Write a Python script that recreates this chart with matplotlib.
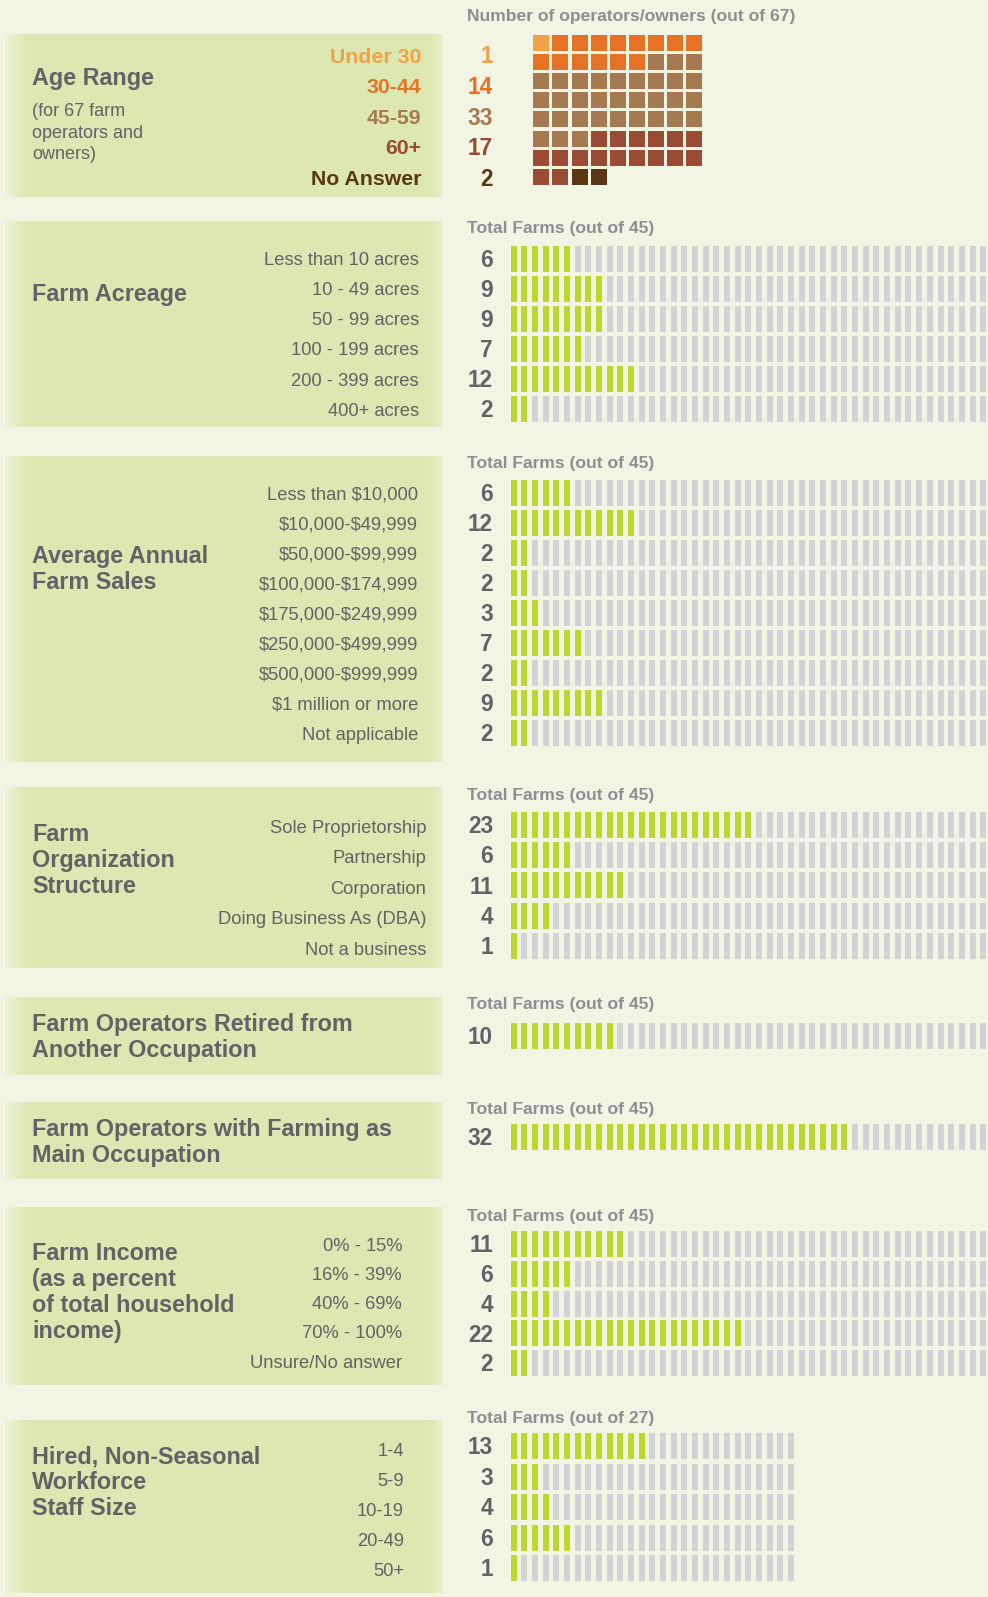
import numpy as np
import matplotlib
matplotlib.use('Agg')
import matplotlib.pyplot as plt

plt.rcParams['font.family'] = ['Liberation Sans', 'DejaVu Sans']

# colores generales
BG = '#F2F5E3'
PANEL = '#DCE7B1'
GREEN = '#BED630'
GREY = '#D2D3D5'
TXT = '#626366'
HDR = '#8D8F92'

# ---- datos ----
age_labels = ['Under 30', '30-44', '45-59', '60+', 'No Answer']
age_counts = [1, 14, 33, 17, 2]
age_colors = ['#F2A244', '#E67225', '#A67A51', '#9A4B34', '#5B3714']
age_title = 'Age Range'
age_sub = ['(for 67 farm', 'operators and', 'owners)']
age_header = 'Number of operators/owners (out of 67)'

acre_labels = ['Less than 10 acres', '10 - 49 acres', '50 - 99 acres',
               '100 - 199 acres', '200 - 399 acres', '400+ acres']
acre_counts = [6, 9, 9, 7, 12, 2]

sales_labels = ['Less than $10,000', '$10,000-$49,999', '$50,000-$99,999',
                '$100,000-$174,999', '$175,000-$249,999', '$250,000-$499,999',
                '$500,000-$999,999', '$1 million or more', 'Not applicable']
sales_counts = [6, 12, 2, 2, 3, 7, 2, 9, 2]

org_labels = ['Sole Proprietorship', 'Partnership', 'Corporation',
              'Doing Business As (DBA)', 'Not a business']
org_counts = [23, 6, 11, 4, 1]

retired_counts = [10]
mainocc_counts = [32]

income_labels = ['0% - 15%', '16% - 39%', '40% - 69%', '70% - 100%', 'Unsure/No answer']
income_counts = [11, 6, 4, 22, 2]

staff_labels = ['1-4', '5-9', '10-19', '20-49', '50+']
staff_counts = [13, 3, 4, 6, 1]

section_titles = [['Farm Acreage'],
                  ['Average Annual', 'Farm Sales'],
                  ['Farm', 'Organization', 'Structure'],
                  ['Farm Operators Retired from', 'Another Occupation'],
                  ['Farm Operators with Farming as', 'Main Occupation'],
                  ['Farm Income', '(as a percent', 'of total household', 'income)'],
                  ['Hired, Non-Seasonal', 'Workforce', 'Staff Size']]
section_labels = [acre_labels, sales_labels, org_labels, [], [], income_labels, staff_labels]
section_counts = [acre_counts, sales_counts, org_counts, retired_counts, mainocc_counts,
                  income_counts, staff_counts]
section_totals = [45, 45, 45, 45, 45, 45, 27]

# ---- disposición (pixeles) ----
W, H = 988, 1597
# (panel arriba, panel abajo, titulo y, etiqueta x derecha, etiqueta y0, paso etiquetas,
#  encabezado y, fila y0, paso filas)
layout = [
    (221, 427, 293, 419, 258, 30.3, 227, 258.5, 30.0),
    (456, 762, 555, 418, 493, 30.0, 462, 493, 30.0),
    (787, 968, 833, 426, 826, 30.5, 794, 825, 30.2),
    (997, 1075, 1023, 0, 0, 0, 1003, 1036, 0),
    (1102, 1179, 1128, 0, 0, 0, 1108, 1137, 0),
    (1207, 1385, 1252, 402, 1244, 29.3, 1215, 1244, 29.8),
    (1420, 1593, 1455, 404, 1449, 30.2, 1417, 1446, 30.5),
]

PANEL_X0, PANEL_X1 = 5, 443
TITLE_X = 32
NUM_X = 493
HDR_X = 467
STRIPE_X0, STRIPE_PITCH, STRIPE_W, STRIPE_H = 510.7, 10.67, 6.0, 26.0
SQ_X0, SQ_Y0, SQ_PITCH, SQ_SIZE, SQ_COLS = 533.3, 35.0, 19.1, 16.0, 9

fig = plt.figure(figsize=(W / 100, H / 100), dpi=100, facecolor=BG)
ax = fig.add_axes([0, 0, 1, 1])
ax.set_facecolor(BG)
ax.set_xlim(0, W)
ax.set_ylim(H, 0)
ax.axis('off')


def label(x, yc, s, size, color=TXT, weight='normal', ha='left'):
    # coloca el texto con la altura de mayusculas centrada en yc
    ax.text(x, yc + 0.358 * size * 100 / 72, s, fontsize=size, color=color,
            fontweight=weight, ha=ha, va='baseline', parse_math=False)


def panel(top, bottom):
    ax.fill_between([PANEL_X0, PANEL_X1], top, bottom, color=PANEL, lw=0, zorder=1)
    # bordes mas claros, como pincel
    xs = np.linspace(0, 1, 200)
    ramp = np.clip(1 - xs / 0.05, 0, 1) * 0.5 + np.clip((xs - 0.97) / 0.03, 0, 1) * 0.35
    img = np.zeros((1, 200, 4))
    img[..., :3] = 1.0
    img[0, :, 3] = ramp
    ax.imshow(img, extent=(PANEL_X0, PANEL_X1, bottom, top), aspect='auto',
              interpolation='bilinear', zorder=1.5)


def stripes(yc, value, total):
    xs = STRIPE_X0 + np.arange(total) * STRIPE_PITCH
    cols = [GREEN if i < value else GREY for i in range(total)]
    ax.bar(xs, STRIPE_H, width=STRIPE_W, bottom=yc - STRIPE_H / 2, color=cols,
           align='edge', lw=0, zorder=2)


# ---- Edad (waffle) ----
panel(34, 197)
label(HDR_X, 15, age_header, 12.6, color=HDR, weight='bold')
label(TITLE_X, 77, age_title, 16.8, weight='bold')
for i, s in enumerate(age_sub):
    label(TITLE_X, 110 + i * 21.5, s, 13.0)
for i, (s, n, c) in enumerate(zip(age_labels, age_counts, age_colors)):
    label(421, 55 + i * 30.5, s, 15.3, color=c, weight='bold', ha='right')
    label(NUM_X, 55 + i * 30.7, str(n), 16.3, color=c, weight='bold', ha='right')

sq_colors = np.repeat(age_colors, age_counts)
idx = np.arange(len(sq_colors))
ax.bar(SQ_X0 + (idx % SQ_COLS) * SQ_PITCH, SQ_SIZE, width=SQ_SIZE,
       bottom=SQ_Y0 + (idx // SQ_COLS) * SQ_PITCH, color=sq_colors, align='edge',
       lw=0, zorder=2)

# ---- secciones de barras ----
for title, labels, counts, total, lay in zip(section_titles, section_labels,
                                              section_counts, section_totals, layout):
    top, bottom, ty, lx, ly0, lstep, hy, ry0, rstep = lay
    panel(top, bottom)
    for j, s in enumerate(title):
        label(TITLE_X, ty + j * 26, s, 16.8, weight='bold')
    for j, s in enumerate(labels):
        label(lx, ly0 + j * lstep, s, 13.2, ha='right')
    label(HDR_X, hy, 'Total Farms (out of %d)' % total, 12.6, color=HDR, weight='bold')
    for j, n in enumerate(counts):
        yc = ry0 + j * rstep
        label(NUM_X, yc, str(n), 16.3, weight='bold', ha='right')
        stripes(yc, n, total)

fig.savefig('out.png', dpi=100, facecolor=BG)
